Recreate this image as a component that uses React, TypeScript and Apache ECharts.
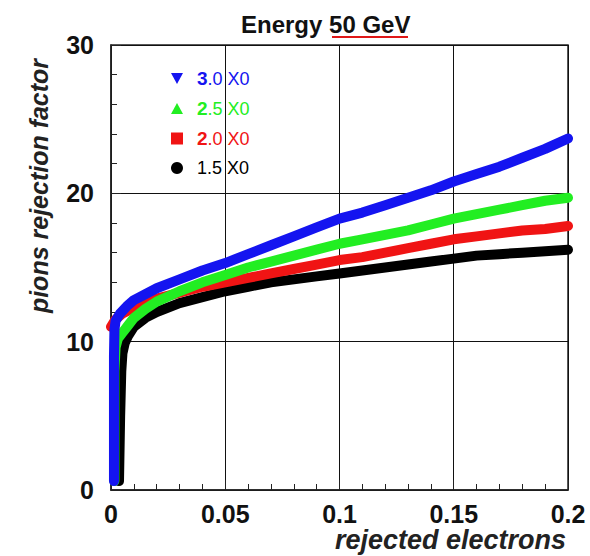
import React, { useEffect, useRef } from "react";
import * as echarts from "echarts";

// ---- data ----
const title = "Energy 50 GeV";
const xAxisName = "rejected electrons";
const yAxisName = "pions rejection factor";
const xTicks = [0, 0.05, 0.1, 0.15, 0.2];
const yTicks = [0, 10, 20, 30];

const names = ["1.5 X0", "2.0 X0", "2.5 X0", "3.0 X0"];
const colors = ["#000000", "#f01414", "#22ee22", "#1414f0"];

const tail = [0.06, 0.07, 0.08, 0.09, 0.1, 0.11, 0.12, 0.13, 0.14, 0.15, 0.16, 0.17, 0.18, 0.19, 0.2];

const x15 = [0.0035, 0.004, 0.0045, 0.005, 0.006, 0.0075, 0.01, 0.015, 0.02, 0.03, 0.04, 0.05, ...tail];
const y15 = [0.6, 5.0, 8.0, 9.2, 9.9, 10.4, 11.0, 11.6, 12.0, 12.6, 13.0, 13.4,
  13.7, 14.0, 14.2, 14.4, 14.6, 14.8, 15.0, 15.2, 15.4, 15.6, 15.8, 15.9, 16.0, 16.1, 16.2];

const x20 = [0, 0.002, 0.005, 0.01, 0.02, 0.03, 0.04, 0.05, ...tail];
const y20 = [11.0, 11.5, 11.9, 12.3, 12.9, 13.3, 13.7, 14.0,
  14.3, 14.6, 14.9, 15.2, 15.5, 15.7, 16.0, 16.3, 16.6, 16.9, 17.1, 17.3, 17.5, 17.6, 17.8];

const x25 = [0.0015, 0.0015, 0.002, 0.003, 0.005, 0.0075, 0.01, 0.015, 0.02, 0.03, 0.04, 0.05, ...tail];
const y25 = [0.6, 8.0, 9.6, 10.2, 10.6, 11.1, 11.6, 12.2, 12.7, 13.4, 14.0, 14.5,
  15.0, 15.4, 15.8, 16.2, 16.6, 16.9, 17.2, 17.5, 17.9, 18.3, 18.6, 18.9, 19.2, 19.5, 19.7];

const x30 = [0.0013, 0.0013, 0.0015, 0.002, 0.004, 0.007, 0.01, 0.015, 0.02, 0.03, 0.04, 0.05, ...tail];
const y30 = [0.6, 9.0, 10.8, 11.4, 11.9, 12.4, 12.8, 13.2, 13.6, 14.2, 14.8, 15.3,
  15.9, 16.5, 17.1, 17.7, 18.3, 18.7, 19.2, 19.7, 20.2, 20.8, 21.3, 21.8, 22.4, 23.0, 23.7];

const xs = [x15, x20, x25, x30];
const ys = [y15, y20, y25, y30];

const legendOrder = ["3.0 X0", "2.5 X0", "2.0 X0", "1.5 X0"];
const legendIcons: Record<string, string> = {
  "3.0 X0": "path://M0,0 L10,0 L5,9 Z",
  "2.5 X0": "path://M5,0 L10,9 L0,9 Z",
  "2.0 X0": "rect",
  "1.5 X0": "circle",
};

const FONT = "'Liberation Sans', Arial, Helvetica, sans-serif";

export default function App() {
  const ref = useRef<HTMLDivElement>(null);

  useEffect(() => {
    if (!ref.current) return;
    const chart = echarts.init(ref.current, undefined, { renderer: "svg" });

    const series = names.map((n, i) => ({
      name: n,
      type: "line",
      data: xs[i].map((x, j) => [x, ys[i][j]]),
      showSymbol: false,
      symbol: "none",
      lineStyle: { color: colors[i], width: 10, join: "round", cap: "round" },
      itemStyle: { color: colors[i] },
      clip: true,
    }));

    chart.setOption({
      animation: false,
      backgroundColor: "#ffffff",
      title: {
        text: title,
        left: 236,
        top: 7,
        textStyle: { fontFamily: FONT, fontSize: 24, fontWeight: "bold", color: "#111" },
      },
      legend: {
        orient: "vertical",
        left: 166,
        top: 64,
        itemWidth: 12,
        itemHeight: 12,
        itemGap: 11,
        selectedMode: false,
        data: legendOrder.map((n) => ({
          name: n,
          icon: legendIcons[n],
          itemStyle: { color: colors[names.indexOf(n)] },
          textStyle: { color: colors[names.indexOf(n)] },
        })),
        formatter: (n: string) =>
          n === "1.5 X0" ? `{s|}${n}` : `{s|}{b|${n.charAt(0)}}${n.slice(1)}`,
        textStyle: {
          fontFamily: FONT,
          fontSize: 18,
          rich: {
            s: { width: 9 },
            b: { fontFamily: FONT, fontSize: 19, fontWeight: "bold" },
          },
        },
      },
      grid: {
        left: 111,
        right: 22,
        top: 45,
        bottom: 66,
        show: true,
        borderColor: "#222",
        borderWidth: 1.5,
        backgroundColor: "transparent",
      },
      xAxis: {
        type: "value",
        min: xTicks[0],
        max: xTicks[xTicks.length - 1],
        interval: 0.05,
        axisLine: { show: true, lineStyle: { color: "#222", width: 1.5 } },
        axisTick: { show: true, inside: true, length: 10, lineStyle: { color: "#222" } },
        minorTick: { show: true, splitNumber: 5, length: 6, lineStyle: { color: "#222" } },
        splitLine: { show: true, lineStyle: { color: "#111", width: 1 } },
        axisLabel: {
          margin: 11,
          fontFamily: FONT,
          fontSize: 25,
          fontWeight: "bold",
          color: "#111",
          formatter: (v: number) => String(Number(v.toFixed(2))),
        },
      },
      yAxis: {
        type: "value",
        min: yTicks[0],
        max: yTicks[yTicks.length - 1],
        interval: 10,
        axisLine: { show: true, lineStyle: { color: "#222", width: 1.5 } },
        axisTick: { show: true, inside: true, length: 10, lineStyle: { color: "#222" } },
        minorTick: { show: true, splitNumber: 5, length: 6, lineStyle: { color: "#222" } },
        splitLine: { show: true, lineStyle: { color: "#111", width: 1 } },
        axisLabel: {
          margin: 17,
          fontFamily: FONT,
          fontSize: 25,
          fontWeight: "bold",
          color: "#111",
        },
      },
      graphic: [
        {
          type: "line",
          shape: { x1: 332, y1: 37, x2: 408, y2: 37 },
          style: { stroke: "#e01818", lineWidth: 2 },
        },
        {
          type: "text",
          x: 566,
          y: 540,
          style: {
            text: xAxisName,
            fontFamily: FONT,
            fontSize: 27,
            fontStyle: "italic",
            fontWeight: "bold",
            fill: "#222",
            align: "right",
            verticalAlign: "middle",
          },
        },
        {
          type: "text",
          x: 39,
          y: 186,
          rotation: Math.PI / 2,
          style: {
            text: yAxisName,
            fontFamily: FONT,
            fontSize: 25,
            fontStyle: "italic",
            fontWeight: "bold",
            fill: "#222",
            align: "center",
            verticalAlign: "middle",
          },
        },
      ],
      series,
    });

    return () => chart.dispose();
  }, []);

  return (
    <div
      ref={ref}
      style={{ position: "absolute", left: 0, top: 0, width: 590, height: 556 }}
    />
  );
}
